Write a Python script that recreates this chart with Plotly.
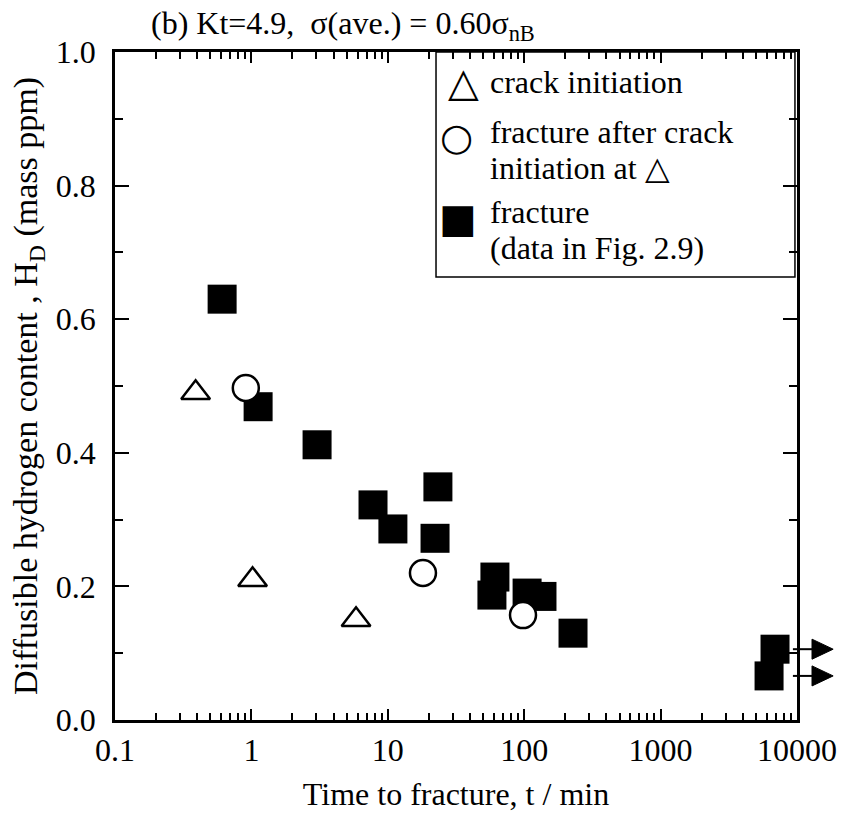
import plotly.graph_objects as go

# ---- data ----
crack_t = [0.39, 1.02, 5.85]
crack_h = [0.49, 0.21, 0.15]

after_t = [0.91, 18.1, 98]
after_h = [0.497, 0.22, 0.157]

frac_t = [0.61, 1.12, 3.03, 7.79, 10.9, 23.3, 22.2, 61, 58, 105, 135, 228, 6900, 6240]
frac_h = [0.63, 0.469, 0.412, 0.322, 0.286, 0.349, 0.272, 0.214, 0.187, 0.19, 0.185, 0.13, 0.106, 0.066]

runout_h = [0.106, 0.066]  # specimens not fractured (arrows)

x_decades = [0.1, 1, 10, 100, 1000, 10000]
x_decade_text = ["0.1", "1", "10", "100", "1000", "10000"]
y_tick_vals = [0.0, 0.2, 0.4, 0.6, 0.8, 1.0]
y_tick_text = ["0.0", "0.2", "0.4", "0.6", "0.8", "1.0"]

legend_glyphs = ["\u25B3", "\u25CB", "\u25A0"]
legend_lines = ["crack initiation",
                "fracture after crack", "initiation at \u25B3",
                "fracture", "(data in Fig. 2.9)"]

FONT = "Liberation Serif, Times New Roman, serif"
FS = 32

x_minor = [k * d for d in x_decades[:-1] for k in range(2, 10)]

fig = go.Figure()
fig.add_trace(go.Scatter(x=frac_t, y=frac_h, mode="markers", name="fracture",
                         marker=dict(symbol="square", size=29, color="black",
                                     line=dict(width=0)), showlegend=False))
fig.add_trace(go.Scatter(x=crack_t, y=crack_h, mode="markers", name="crack initiation",
                         marker=dict(symbol="triangle-up", size=25, color="white",
                                     line=dict(width=2.5, color="black")), showlegend=False))
fig.add_trace(go.Scatter(x=after_t, y=after_h, mode="markers", name="fracture after crack initiation",
                         marker=dict(symbol="circle", size=26, color="white",
                                     line=dict(width=2.5, color="black")), showlegend=False))

fig.update_xaxes(type="log", range=[-1, 4], tickmode="array", tickvals=x_decades,
                 ticktext=x_decade_text, ticks="inside", ticklen=11, tickwidth=2,
                 tickcolor="black",
                 minor=dict(tickmode="array", tickvals=x_minor, ticks="inside", ticklen=7,
                            tickwidth=1.5, tickcolor="black", showgrid=False),
                 showline=True, linecolor="black", linewidth=2.5, mirror="allticks",
                 showgrid=False, automargin=False, zeroline=False,
                 tickfont=dict(family=FONT, size=FS, color="black"),
                 title=dict(text="Time to fracture, t / min", standoff=16,
                            font=dict(family=FONT, size=FS, color="black")))
fig.update_yaxes(range=[0, 1], tickmode="array", tickvals=y_tick_vals, ticktext=y_tick_text,
                 ticks="inside", ticklen=14, tickwidth=2, tickcolor="black", ticklabelstandoff=10,
                 minor=dict(dtick=0.1, ticks="inside", ticklen=8, tickwidth=1.5,
                            tickcolor="black", showgrid=False),
                 showline=True, linecolor="black", linewidth=2.5, mirror="allticks",
                 showgrid=False, automargin=False, zeroline=False,
                 tickfont=dict(family=FONT, size=FS, color="black"),
                 title=dict(text="Diffusible hydrogen content , H<sub>D</sub> (mass ppm)", standoff=8,
                            font=dict(family=FONT, size=34, color="black")))

# title
fig.add_annotation(text="(b) Kt=4.9,&nbsp;&nbsp;\u03C3(ave.) = 0.60\u03C3<sub>nB</sub>",
                   xref="paper", yref="paper", x=0.05, y=1, xanchor="left", yanchor="bottom",
                   yshift=4, showarrow=False, font=dict(family=FONT, size=FS, color="black"))

# arrows for run-out specimens (line + filled head, placed at each run-out value)
ARROW_X0, ARROW_XB, ARROW_XT, HEAD_H = 0.994, 1.022, 1.053, 0.015
for h in runout_h:
    fig.add_shape(type="line", xref="paper", yref="y", x0=ARROW_X0, x1=ARROW_XB + 0.005,
                  y0=h, y1=h, line=dict(color="black", width=2))
    fig.add_shape(type="path", xref="paper", yref="y",
                  path=f"M {ARROW_XB},{h - HEAD_H} L {ARROW_XT},{h} L {ARROW_XB},{h + HEAD_H} Z",
                  fillcolor="black", line=dict(color="black", width=1))

# legend box
fig.add_shape(type="rect", xref="paper", yref="paper", x0=0.4707, x1=0.997, y0=0.663, y1=1.0,
              line=dict(color="black", width=1.5), fillcolor="white", layer="below")
glyph_pos = [(0.511, 0.955), (0.500, 0.873), (0.503, 0.751)]
glyph_sizes = [40, 38, 40]
for g, (gx, gy), gs in zip(legend_glyphs, glyph_pos, glyph_sizes):
    fig.add_annotation(text=g, xref="paper", yref="paper", x=gx, y=gy, showarrow=False,
                       xanchor="center", yanchor="middle",
                       font=dict(family="DejaVu Sans", size=gs, color="black"))
line_y = [0.955, 0.880, 0.826, 0.760, 0.707]
for lab, ly in zip(legend_lines, line_y):
    fig.add_annotation(text=lab, xref="paper", yref="paper", x=0.547, y=ly, showarrow=False,
                       xanchor="left", yanchor="middle", align="left",
                       font=dict(family=FONT, size=FS, color="black"))

fig.update_layout(width=842, height=818, margin=dict(l=115, r=45, t=52, b=98),
                  plot_bgcolor="white", paper_bgcolor="white", showlegend=False,
                  font=dict(family=FONT, size=FS, color="black"))

fig.write_html("out.html")
